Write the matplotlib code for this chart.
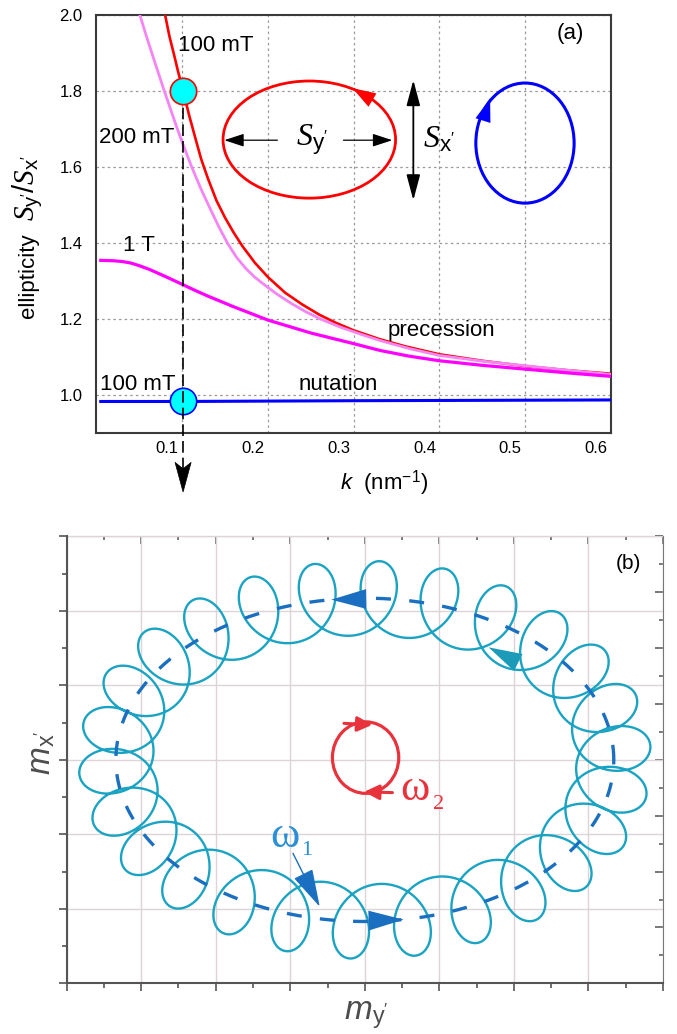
import numpy as np
import matplotlib
matplotlib.use('Agg')
import matplotlib.pyplot as plt
from matplotlib.patches import Ellipse, Polygon
from matplotlib.transforms import ScaledTranslation
from matplotlib.ticker import MultipleLocator

plt.rcParams['font.family'] = ['Liberation Sans', 'DejaVu Sans']
plt.rcParams['mathtext.fontset'] = 'custom'
plt.rcParams['mathtext.rm'] = 'Liberation Sans'
plt.rcParams['mathtext.it'] = 'Liberation Serif:italic'
plt.rcParams['mathtext.sf'] = 'Liberation Sans:italic'

# ---- panel (a): ellipticity vs k ----
# precession, 100 mT
k_100 = [0.080, 0.085, 0.090, 0.095, 0.101, 0.108, 0.115, 0.122, 0.130, 0.140,
         0.150, 0.160, 0.170, 0.185, 0.200, 0.220, 0.240, 0.260, 0.280, 0.300,
         0.330, 0.360, 0.400, 0.450, 0.500, 0.550, 0.600]
e_100 = [2.000, 1.944, 1.899, 1.852, 1.800, 1.736, 1.678, 1.621, 1.569, 1.511,
         1.466, 1.427, 1.392, 1.347, 1.310, 1.269, 1.238, 1.211, 1.189, 1.170,
         1.147, 1.128, 1.107, 1.090, 1.076, 1.065, 1.056]
# precession, 200 mT
k_200 = [0.0505, 0.058, 0.065, 0.072, 0.079, 0.086, 0.093, 0.100, 0.111, 0.122,
         0.133, 0.143, 0.1526, 0.163, 0.174, 0.184, 0.194, 0.210, 0.227, 0.244,
         0.261, 0.285, 0.308, 0.331, 0.365, 0.400, 0.450, 0.500, 0.550, 0.600]
e_200 = [2.000, 1.945, 1.896, 1.848, 1.800, 1.754, 1.708, 1.664, 1.600, 1.541,
         1.488, 1.441, 1.400, 1.363, 1.333, 1.311, 1.293, 1.266, 1.241, 1.219,
         1.200, 1.178, 1.160, 1.143, 1.122, 1.104, 1.089, 1.077, 1.065, 1.054]
# precession, 1 T
k_1T = [0.005, 0.020, 0.030, 0.040, 0.050, 0.062, 0.080, 0.100, 0.115, 0.130,
        0.160, 0.200, 0.250, 0.300, 0.331, 0.365, 0.400, 0.450, 0.500, 0.550, 0.600]
e_1T = [1.354, 1.353, 1.351, 1.347, 1.340, 1.330, 1.312, 1.291, 1.275, 1.260,
        1.232, 1.197, 1.163, 1.135, 1.117, 1.102, 1.090, 1.078, 1.068, 1.058, 1.049]
# nutation, 100 mT
k_nut = [0.005, 0.100, 0.300, 0.600]
e_nut = [0.983, 0.983, 0.985, 0.987]

k_mark = 0.101
e_mark = [1.80, 0.983]

x_ticks = [0.1, 0.2, 0.3, 0.4, 0.5, 0.6]
y_ticks = [1.0, 1.2, 1.4, 1.6, 1.8, 2.0]

# ---- panel (b): schematic precession + nutation path ----
prec_c = (4.0, 3.0)
prec_ax = (3.34, 2.17)
nut_along = 0.43
nut_perp = 0.50
n_loops = 26
nut_phase = 261.0

fig = plt.figure(figsize=(6.77, 10.34), dpi=100)

# ================= (a) =================
ax1 = fig.add_axes([0.1425, 0.5812, 0.7600, 0.4046])
ax1.plot(k_100, e_100, color='#ff0000', lw=1.9, zorder=3)
ax1.plot(k_200, e_200, color='#f585f5', lw=2.0, zorder=3.5)
ax1.plot(k_1T, e_1T, color='#ff00ff', lw=2.3, zorder=4)
ax1.plot(k_nut, e_nut, color='#0000ff', lw=2.2, zorder=3)

ax1.plot([k_mark], [e_mark[0]], 'o', ms=19, mfc='#00ffff', mec='#ff0000', mew=1.2, zorder=7)
ax1.plot([k_mark], [e_mark[1]], 'o', ms=19, mfc='#00ffff', mec='#0000ff', mew=1.2, zorder=4.5)
ax1.plot([k_mark, k_mark], [e_mark[0], 0.80], color='k', lw=1.2, dashes=(7, 3),
         clip_on=False, zorder=6)
ax1.add_patch(Polygon([[k_mark - 0.0094, 0.823], [k_mark, 0.745], [k_mark + 0.0094, 0.823],
                       [k_mark, 0.806]], closed=True, fc='k', ec='k', lw=0.5,
                      clip_on=False, zorder=6))

ax1.set_xlim(0, 0.6)
ax1.set_ylim(0.9, 2.0)
ax1.set_xticks(x_ticks)
ax1.set_xticklabels(['%.1f' % v for v in x_ticks])
ax1.set_yticks(y_ticks)
ax1.set_yticklabels(['%.1f' % v for v in y_ticks])
ax1.grid(True, color='#999999', lw=0.9, linestyle=(0, (2, 2.5)))
ax1.set_axisbelow(True)
ax1.tick_params(axis='both', length=0, labelsize=12)
ax1.tick_params(axis='x', pad=6)
ax1.tick_params(axis='y', pad=10)
for sp in ax1.spines.values():
    sp.set_color('#3a3a3a')
    sp.set_linewidth(1.5)
offset = ScaledTranslation(-15 / 100, 0, fig.dpi_scale_trans)
for lab in ax1.get_xticklabels():
    lab.set_transform(lab.get_transform() + offset)

# y label: plain word plus larger italic-serif ratio
ax1.text(-0.133, 0.377, "ellipticity", transform=ax1.transAxes,
         rotation=90, ha='center', va='center', fontsize=16)
ax1.text(-0.133, 0.585, r"$S_{\mathrm{y}'}/S_{\mathrm{x}'}$", transform=ax1.transAxes,
         rotation=90, ha='center', va='center', fontsize=21)
ax1.text(0.559, -0.12, r"$\mathsf{k}$  (nm$^{-1}$)", transform=ax1.transAxes,
         ha='center', va='center', fontsize=16)

ax1.text(0.095, 1.920, "100 mT", fontsize=16, va='center')
ax1.text(0.0026, 1.676, "200 mT", fontsize=16, va='center')
ax1.text(0.0307, 1.394, "1 T", fontsize=16, va='center')
ax1.text(0.0037, 1.027, "100 mT", fontsize=16, va='center')
ax1.text(0.2353, 1.028, "nutation", fontsize=16, va='center')
ax1.text(0.339, 1.170, "precession", fontsize=16, va='center')
ax1.text(0.569, 1.951, "(a)", fontsize=16, ha='right', va='center')

# inset sketches of the orbits
ax1.add_patch(Ellipse((0.2482, 1.6716), 0.2012, 0.308, fill=False, ec='#ff0000', lw=2.0, zorder=4))
ax1.add_patch(Ellipse((0.4997, 1.6624), 0.1146, 0.3158, fill=False, ec='#0000ff', lw=2.2, zorder=4))
head = '-|>,head_length=0.6,head_width=0.2'
ax1.annotate('', xy=(0.2985, 1.807), xytext=(0.337, 1.755),
             arrowprops=dict(arrowstyle=head, color='#ff0000', lw=0, mutation_scale=28,
                             shrinkA=0, shrinkB=0))
ax1.annotate('', xy=(0.459, 1.780), xytext=(0.446, 1.688),
             arrowprops=dict(arrowstyle=head, color='#0000ff', lw=0, mutation_scale=28,
                             shrinkA=0, shrinkB=0))
thin = '-|>,head_length=0.55,head_width=0.18'
ax1.annotate('', xy=(0.149, 1.670), xytext=(0.211, 1.670),
             arrowprops=dict(arrowstyle=thin, color='k', lw=0.9, mutation_scale=22,
                             shrinkA=0, shrinkB=0))
ax1.annotate('', xy=(0.345, 1.670), xytext=(0.288, 1.670),
             arrowprops=dict(arrowstyle=thin, color='k', lw=0.9, mutation_scale=22,
                             shrinkA=0, shrinkB=0))
ax1.annotate('', xy=(0.3695, 1.828), xytext=(0.3695, 1.512),
             arrowprops=dict(arrowstyle='<|-|>,head_length=0.6,head_width=0.16', color='k',
                             lw=1.3, mutation_scale=26, shrinkA=0, shrinkB=0))
ax1.text(0.251, 1.672, r"$S_{\mathrm{y}'}$", fontsize=23, ha='center', va='center')
ax1.text(0.3805, 1.672, r"$S_{\mathrm{x}'}$", fontsize=23, ha='left', va='center')

# ================= (b) =================
ax2 = fig.add_axes([0.0985, 0.0490, 0.8808, 0.4323])
t = np.linspace(0, 2 * np.pi, 8000)
gx = prec_c[0] + prec_ax[0] * np.cos(t)
gy = prec_c[1] + prec_ax[1] * np.sin(t)
# unit tangent (counter-clockwise) and outward normal of the guiding ellipse
tx, ty = -prec_ax[0] * np.sin(t), prec_ax[1] * np.cos(t)
nrm = np.hypot(tx, ty)
tx, ty = tx / nrm, ty / nrm
nx, ny = ty, -tx
th = n_loops * t + np.deg2rad(nut_phase)
lx = gx - nut_along * np.sin(th) * tx + nut_perp * np.cos(th) * nx
ly = gy - nut_along * np.sin(th) * ty + nut_perp * np.cos(th) * ny
ax2.plot(lx, ly, color='#1aa3c2', lw=1.7, zorder=2)
ax2.plot(gx, gy, color='#1b6fc0', lw=2.4, dashes=(4.5, 5.5), zorder=3)

dark = '#1b6fc0'
big = '-|>,head_length=0.6,head_width=0.17'
ax2.annotate('', xy=(3.55, 5.15), xytext=(4.10, 5.16),
             arrowprops=dict(arrowstyle=big, color=dark, lw=0, mutation_scale=42,
                             shrinkA=0, shrinkB=0), zorder=4)
ax2.annotate('', xy=(4.52, 0.855), xytext=(3.97, 0.84),
             arrowprops=dict(arrowstyle=big, color=dark, lw=0, mutation_scale=42,
                             shrinkA=0, shrinkB=0), zorder=4)
ax2.annotate('', xy=(5.66, 4.51), xytext=(6.21, 4.23),
             arrowprops=dict(arrowstyle=big, color='#1b9bb8', lw=0, mutation_scale=40,
                             shrinkA=0, shrinkB=0), zorder=4)

red = '#e8323c'
ax2.add_patch(Ellipse((4.01, 3.03), 0.89, 0.96, fill=False, ec=red, lw=2.3, zorder=4))
ax2.annotate('', xy=(4.10, 3.47), xytext=(3.72, 3.49),
             arrowprops=dict(arrowstyle='-|>,head_length=0.5,head_width=0.25', color=red,
                             lw=2.2, mutation_scale=18, shrinkA=0, shrinkB=0))
ax2.annotate('', xy=(3.99, 2.57), xytext=(4.37, 2.56),
             arrowprops=dict(arrowstyle='-|>,head_length=0.5,head_width=0.25', color=red,
                             lw=2.2, mutation_scale=18, shrinkA=0, shrinkB=0))
ax2.text(4.47, 2.46, "\u03c9", fontsize=32, family='Liberation Serif', color=red,
         ha='left', va='baseline')
ax2.text(4.91, 2.34, "2", fontsize=16, family='Liberation Serif', color=red,
         ha='left', va='baseline')

blue_txt = '#2a8fd4'
ax2.text(2.725, 1.835, "\u03c9", fontsize=32, family='Liberation Serif', color=blue_txt,
         ha='left', va='baseline')
ax2.text(3.15, 1.72, "1", fontsize=16, family='Liberation Serif', color=blue_txt,
         ha='left', va='baseline')
ax2.annotate('', xy=(3.395, 1.028), xytext=(3.036, 1.745),
             arrowprops=dict(arrowstyle='-|>,head_length=0.8,head_width=0.22', color=dark,
                             lw=1.0, mutation_scale=30, shrinkA=0, shrinkB=0), zorder=4)

ax2.text(7.53, 5.63, "(b)", fontsize=15, ha='center', va='center')

ax2.set_xlim(0, 8)
ax2.set_ylim(0, 6)
for axis in (ax2.xaxis, ax2.yaxis):
    axis.set_major_locator(MultipleLocator(1))
    axis.set_minor_locator(MultipleLocator(0.5))
ax2.tick_params(which='both', direction='out', color='#555555', width=1.2,
                labelbottom=False, labelleft=False)
ax2.tick_params(which='major', length=6)
ax2.tick_params(which='minor', length=3.5)
ax2.grid(True, which='major', color='#ddd5d5', lw=1.0)
ax2.set_axisbelow(True)
for side in ('left', 'bottom'):
    ax2.spines[side].set_color('#555555')
    ax2.spines[side].set_linewidth(1.5)
ax2.spines['top'].set_visible(False)
ax2.spines['right'].set_visible(False)

secx = ax2.secondary_xaxis('top')
secx.xaxis.set_major_locator(MultipleLocator(1))
secx.xaxis.set_minor_locator(MultipleLocator(0.5))
secx.tick_params(which='both', direction='in', color='#555555', width=1.1, labeltop=False)
secx.tick_params(which='major', length=6)
secx.tick_params(which='minor', length=3)
secx.spines['top'].set_color('#888888')

secy = ax2.secondary_yaxis('right')
secy.yaxis.set_major_locator(MultipleLocator(0.75))
secy.yaxis.set_minor_locator(MultipleLocator(0.375))
secy.tick_params(which='both', direction='in', color='#555555', width=1.1, labelright=False)
secy.tick_params(which='major', length=6)
secy.tick_params(which='minor', length=3)
secy.spines['right'].set_color('#777777')

ax2.text(-0.0414, 0.515, r"$\mathsf{m}_{\mathrm{x}'}$", transform=ax2.transAxes, rotation=90,
         ha='center', va='center', fontsize=24, color='#4d4d4d')
ax2.text(0.502, -0.071, r"$\mathsf{m}_{\mathrm{y}'}$", transform=ax2.transAxes,
         ha='center', va='center', fontsize=24, color='#4d4d4d')

fig.savefig('out.png', dpi=100)
